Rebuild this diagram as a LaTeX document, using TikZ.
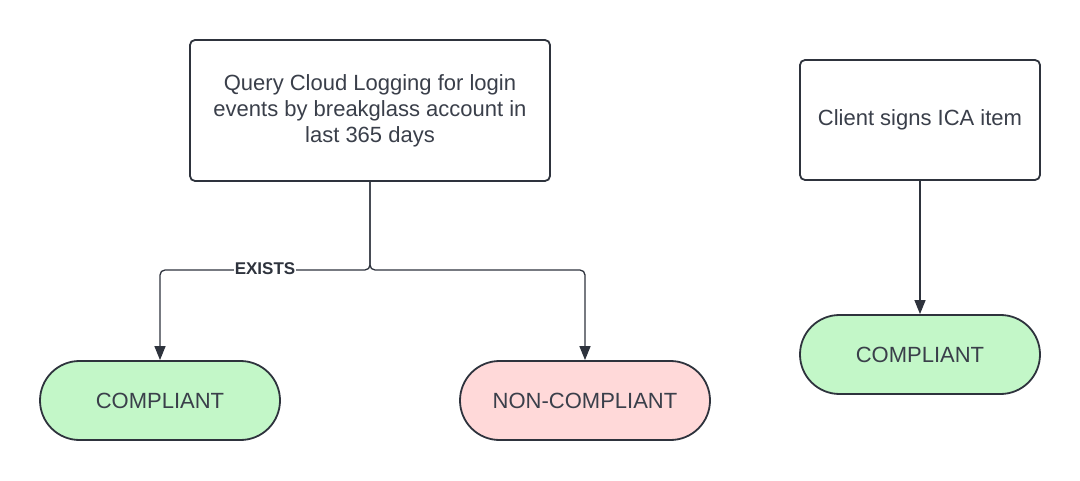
\documentclass[tikz,border=0pt]{standalone}
\usepackage{fontspec}
\setmainfont{Liberation Sans}
\usetikzlibrary{arrows.meta,shapes.misc}
\definecolor{ink}{HTML}{2E333D}
\definecolor{txt}{HTML}{3A3F4A}
\definecolor{okfill}{HTML}{C3F7C8}
\definecolor{badfill}{HTML}{FFD9D9}
\tikzset{
  procbox/.style={draw=ink, line width=1.8pt, rounded corners=5pt, fill=white, text=txt, align=center, font=\fontsize{22}{26}\selectfont, inner sep=0pt},
  termbox/.style={draw=ink, line width=1.8pt, rounded rectangle, text=txt, font=\fontsize{22}{26}\selectfont, minimum height=79pt, inner sep=0pt},
  conn/.style={draw=ink, line width=1.3pt, rounded corners=5pt, -{Triangle[width=11pt,length=14pt]}},
  lbl/.style={fill=white, text=ink, font=\bfseries\fontsize{17}{20}\selectfont, inner sep=1pt}
}
\begin{document}
\begin{tikzpicture}[x=1pt,y=-1pt]
\useasboundingbox (0,0) rectangle (1080,481);
\node[procbox, minimum width=360pt, minimum height=141pt] (q) at (370,110.5) {Query Cloud Logging for login\\events by breakglass account in\\last 365 days};
\node[procbox, minimum width=240pt, minimum height=120pt] (c) at (920,120) {Client signs ICA item};
\node[termbox, fill=okfill, minimum width=240pt] (ok1) at (160,400.5) {COMPLIANT};
\node[termbox, fill=badfill, minimum width=250pt] (bad) at (585,400.5) {NON-COMPLIANT};
\node[termbox, fill=okfill, minimum width=240pt] (ok2) at (920,354.5) {COMPLIANT};
\coordinate (j) at (370,270);
\draw[conn] (q.south) -- (j) -| (ok1.north);
\draw[conn] (q.south) -- (j) -| (bad.north);
\draw[conn] (c.south) -- (ok2.north);
\node[lbl] (ex) at (265,269) {EXISTS};
\end{tikzpicture}
\end{document}
